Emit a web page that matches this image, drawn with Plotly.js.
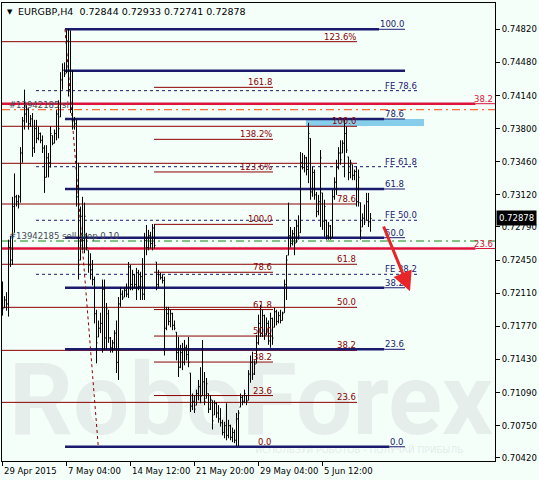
<!DOCTYPE html>
<html><head><meta charset="utf-8">
<script src="https://cdn.plot.ly/plotly-3.0.1.min.js"></script>
<style>html,body{margin:0;padding:0;background:#F5FFFA}#chart{width:539px;height:480px}</style>
</head><body><div id="chart"></div>
<script>
const opens=[0.7215,0.7196,0.7204,0.7200,0.7258,0.7245,0.7300,0.7310,0.7305,0.7310,
0.7355,0.7388,0.7395,0.7400,0.7385,0.7390,0.7360,0.7380,0.7370,0.7375,
0.7368,0.7360,0.7330,0.7350,0.7345,0.7373,0.7365,0.7375,0.7395,0.7392,
0.7430,0.7440,0.7437,0.7470,0.7420,0.7400,0.7388,0.7385,0.7310,0.7245,
0.7290,0.7265,0.7270,0.7255,0.7240,0.7235,0.7225,0.7190,0.7166,0.7175,
0.7180,0.7215,0.7165,0.7190,0.7165,0.7155,0.7160,0.7170,0.7140,0.7200,
0.7210,0.7207,0.7214,0.7210,0.7238,0.7220,0.7230,0.7220,0.7232,0.7218,
0.7228,0.7210,0.7265,0.7258,0.7270,0.7262,0.7278,0.7243,0.7220,0.7230,
0.7227,0.7224,0.7175,0.7190,0.7182,0.7190,0.7178,0.7171,0.7150,0.7135,
0.7150,0.7140,0.7155,0.7148,0.7129,0.7095,0.7100,0.7096,0.7108,0.7115,
0.7106,0.7120,0.7103,0.7108,0.7092,0.7101,0.7086,0.7098,0.7088,0.7082,
0.7078,0.7068,0.7075,0.7065,0.7075,0.7063,0.7068,0.7060,0.7082,0.7094,
0.7104,0.7100,0.7106,0.7101,0.7128,0.7140,0.7128,0.7139,0.7160,0.7180,
0.7170,0.7188,0.7168,0.7180,0.7162,0.7185,0.7176,0.7192,0.7182,0.7188,
0.7183,0.7191,0.7220,0.7250,0.7270,0.7262,0.7272,0.7263,0.7280,0.7273,
0.7345,0.7340,0.7350,0.7338,0.7370,0.7315,0.7335,0.7312,0.7295,0.7305,
0.7314,0.7285,0.7286,0.7270,0.7280,0.7268,0.7310,0.7325,0.7340,0.7355,
0.7355,0.7365,0.7375,0.7351,0.7335,0.7343,0.7332,0.7336,0.7305,0.7304,
0.7279,0.7288,0.7286,0.7305,0.72844];
const highs=[0.7223,0.7208,0.7212,0.7266,0.7270,0.7310,0.7334,0.7312,0.7312,0.7361,
0.7392,0.7420,0.7404,0.7401,0.7394,0.7396,0.7389,0.7389,0.7382,0.7376,
0.7373,0.7363,0.7363,0.7355,0.7382,0.7373,0.7379,0.7399,0.7409,0.7438,
0.7447,0.7448,0.7481,0.7482,0.7481,0.7440,0.7392,0.7389,0.7345,0.7300,
0.7310,0.7304,0.7273,0.7255,0.7252,0.7245,0.7228,0.7194,0.7183,0.7191,
0.7225,0.7225,0.7201,0.7194,0.7166,0.7163,0.7173,0.7183,0.7207,0.7217,
0.7214,0.7217,0.7221,0.7243,0.7240,0.7235,0.7230,0.7237,0.7235,0.7233,
0.7247,0.7273,0.7281,0.7276,0.7274,0.7282,0.7282,0.7243,0.7235,0.7232,
0.7230,0.7228,0.7197,0.7197,0.7194,0.7191,0.7183,0.7171,0.7166,0.7158,
0.7160,0.7163,0.7158,0.7166,0.7129,0.7108,0.7106,0.7112,0.7122,0.7135,
0.7163,0.7130,0.7124,0.7108,0.7106,0.7101,0.7101,0.7099,0.7096,0.7093,
0.7081,0.7079,0.7098,0.7081,0.7076,0.7073,0.7071,0.7088,0.7091,0.7108,
0.7106,0.7112,0.7106,0.7132,0.7147,0.7151,0.7142,0.7168,0.7189,0.7199,
0.7194,0.7189,0.7186,0.7183,0.7191,0.7186,0.7196,0.7194,0.7192,0.7194,
0.7192,0.7225,0.7250,0.7304,0.7279,0.7276,0.7279,0.7286,0.7291,0.7356,
0.7355,0.7353,0.7351,0.7386,0.7370,0.7341,0.7338,0.7315,0.7312,0.7358,
0.7314,0.7307,0.7286,0.7284,0.7281,0.7317,0.7330,0.7348,0.7361,0.7368,
0.7368,0.7389,0.7382,0.7351,0.7348,0.7343,0.7338,0.7341,0.7338,0.7304,
0.7293,0.7302,0.7314,0.7314,0.72933];
const lows=[0.7188,0.7196,0.7193,0.7187,0.7238,0.7240,0.7273,0.7300,0.7298,0.7304,
0.7345,0.7379,0.7386,0.7379,0.7382,0.7351,0.7355,0.7365,0.7368,0.7365,
0.7355,0.7314,0.7330,0.7330,0.7340,0.7363,0.7365,0.7368,0.7370,0.7392,
0.7420,0.7433,0.7437,0.7413,0.7396,0.7379,0.7379,0.7300,0.7225,0.7245,
0.7255,0.7252,0.7255,0.7232,0.7225,0.7219,0.7180,0.7139,0.7166,0.7170,
0.7150,0.7153,0.7153,0.7160,0.7150,0.7150,0.7153,0.7129,0.7122,0.7197,
0.7204,0.7207,0.7207,0.7206,0.7214,0.7214,0.7216,0.7204,0.7214,0.7204,
0.7204,0.7204,0.7250,0.7255,0.7257,0.7255,0.7257,0.7214,0.7217,0.7225,
0.7221,0.7147,0.7173,0.7178,0.7176,0.7173,0.7173,0.7142,0.7125,0.7134,
0.7132,0.7137,0.7142,0.7135,0.7089,0.7091,0.7088,0.7096,0.7101,0.7098,
0.7106,0.7096,0.7103,0.7088,0.7091,0.7071,0.7086,0.7083,0.7078,0.7074,
0.7065,0.7062,0.7060,0.7062,0.7060,0.7058,0.7057,0.7054,0.7054,0.7094,
0.7096,0.7098,0.7096,0.7101,0.7119,0.7122,0.7127,0.7139,0.7158,0.7166,
0.7166,0.7163,0.7168,0.7158,0.7155,0.7158,0.7176,0.7178,0.7180,0.7180,
0.7183,0.7191,0.7204,0.7250,0.7258,0.7260,0.7250,0.7263,0.7266,0.7273,
0.7338,0.7335,0.7332,0.7324,0.7307,0.7310,0.7307,0.7289,0.7291,0.7279,
0.7276,0.7269,0.7266,0.7266,0.7266,0.7268,0.7307,0.7312,0.7338,0.7343,
0.7355,0.7330,0.7355,0.7327,0.7329,0.7327,0.7327,0.7300,0.7300,0.7266,
0.7279,0.7281,0.7286,0.7279,0.72741];
const closes=[0.7195,0.7204,0.7200,0.7258,0.7245,0.7300,0.7310,0.7305,0.7310,0.7355,
0.7388,0.7395,0.7400,0.7385,0.7390,0.7360,0.7380,0.7370,0.7375,0.7368,
0.7360,0.7330,0.7350,0.7345,0.7375,0.7365,0.7375,0.7395,0.7380,0.7430,
0.7440,0.7436,0.7470,0.7420,0.7400,0.7388,0.7385,0.7310,0.7240,0.7290,
0.7265,0.7290,0.7258,0.7240,0.7235,0.7225,0.7190,0.7160,0.7175,0.7180,
0.7215,0.7165,0.7195,0.7165,0.7155,0.7160,0.7170,0.7140,0.7200,0.7210,
0.7206,0.7214,0.7210,0.7238,0.7220,0.7230,0.7220,0.7232,0.7218,0.7228,
0.7210,0.7265,0.7258,0.7270,0.7262,0.7278,0.7260,0.7220,0.7230,0.7227,
0.7224,0.7175,0.7190,0.7182,0.7190,0.7178,0.7175,0.7150,0.7135,0.7150,
0.7140,0.7155,0.7148,0.7140,0.7095,0.7100,0.7092,0.7108,0.7115,0.7105,
0.7120,0.7100,0.7118,0.7092,0.7102,0.7080,0.7098,0.7088,0.7082,0.7078,
0.7068,0.7075,0.7065,0.7075,0.7063,0.7068,0.7060,0.7082,0.7088,0.7104,
0.7100,0.7108,0.7100,0.7128,0.7140,0.7128,0.7138,0.7160,0.7180,0.7170,
0.7188,0.7168,0.7180,0.7162,0.7185,0.7165,0.7192,0.7182,0.7188,0.7183,
0.7190,0.7220,0.7245,0.7270,0.7262,0.7272,0.7262,0.7280,0.7270,0.7345,
0.7340,0.7350,0.7338,0.7375,0.7315,0.7335,0.7312,0.7295,0.7305,0.7350,
0.7285,0.7300,0.7270,0.7280,0.7268,0.7310,0.7325,0.7340,0.7355,0.7348,
0.7365,0.7375,0.7358,0.7335,0.7345,0.7332,0.7336,0.7305,0.7330,0.7275,
0.7288,0.7284,0.7305,0.72844,0.72878];

const tickBars=[0,32,64,96,128,160];
const tickLabels=['29 Apr 2015','7 May 04:00','14 May 12:00','21 May 20:00','29 May 04:00','5 Jun 12:00'];
const priceTicks=[0.7482,0.7448,0.7414,0.7380,0.7346,0.7312,0.7279,0.7245,0.7211,0.7177,0.7143,0.7109,0.7075,0.7042];

const navyLevels=[0.7482,0.74395,0.73899,0.7318,0.7268,0.72166,0.71534,0.70533];
const navyLabels=['100.0','','78.6','61.8','50.0','38.2','23.6','0.0'];
const setALevels=[0.74693,0.73824,0.73444,0.73026,0.72407,0.71965,0.71523,0.70989];
const setALabels=['123.6%','100.0','','78.6','61.8','50.0','38.2','23.6'];
const setBLevels=[0.74224,0.7369,0.73355,0.72817,0.72325,0.71942,0.7167,0.71403,0.71059,0.70533];
const setBLabels=['161.8','138.2%','123.6%','100.0','78.6','61.8','50.0','38.2','23.6','0.0'];
const feLevels=[0.7419,0.73409,0.72859,0.72304];
const feLabels=['FE 78.6','FE 61.8','FE 50.0','FE 38.2'];
const redLevels=[0.74056,0.72569];
const redLabels=['38.2','23.6'];
const orderLevels=[0.73994,0.72646];
const orderLabels=['#13942185 sl','#13942185 sell stop 0.10'];
const trendFrom=[31.25,0.7482], trendTo=[47.9,0.70533];
const zoneLow=0.73827, zoneHigh=0.73899;
const lastPrice=0.72878;
const arrowFrom=[190.25,0.7281], arrowTo=[203.75,0.7213];

const bars=highs.map((_,i)=>i);
const F='DejaVu Sans';
const NAVY='#1b1b6e', BROWN='#8B0000', CRIMSON='#DC143C';
const shapes=[], annotations=[];
function hline(y,x0,x1,color,width,dash,xref){
  shapes.push({type:'line',layer:'below',xref:xref||'x',yref:'y',x0:x0,x1:x1,y0:y,y1:y,line:{color:color,width:width,dash:dash||'solid'}});
}
function lab(text,x,y,color,extra){
  if(!text) return;
  annotations.push(Object.assign({text:text,x:x,y:y,xref:'x',yref:'y',xanchor:'right',yanchor:'bottom',showarrow:false,borderpad:0,yshift:-1,font:{family:F,size:8.5,color:color}},extra||{}));
}
// watermark
shapes.push({type:'rect',layer:'below',xref:'paper',yref:'paper',x0:0.03,x1:0.98,y0:0.03,y1:0.27,line:{width:0},fillcolor:'rgba(0,0,0,0)',
  label:{text:'RoboForex',font:{family:'Roboto',size:100,weight:'bold',color:'#E6EEEC'},textposition:'middle center'}});
shapes.push({type:'rect',layer:'below',xref:'paper',yref:'paper',x0:0.45,x1:1.0,y0:0.0,y1:0.05,line:{width:0},fillcolor:'rgba(0,0,0,0)',
  label:{text:'ИСПОЛЬЗУЙ РОБОТОВ - ПОЛУЧАЙ ПРИБЫЛЬ',font:{family:F,size:9,color:'#E4ECEA'},textposition:'middle center'}});
// zone
shapes.push({type:'rect',layer:'below',xref:'x',yref:'y',x0:151.75,x1:210.75,y0:zoneLow,y1:zoneHigh,line:{width:0},fillcolor:'#87CEEB'});
// set A
setALevels.forEach((v,i)=>{hline(v,-0.25,177.25,BROWN,1); lab(setALabels[i],177.25,v,BROWN);});
// set B
setBLevels.forEach((v,i)=>{hline(v,75.75,135.25,BROWN,1); lab(setBLabels[i],135.25,v,BROWN);});
// FE dashed
feLevels.forEach((v,i)=>{hline(v,16.75,207.75,NAVY,1,'3px,3px'); lab(feLabels[i],207.75,v,NAVY);});
// navy thick
navyLevels.forEach((v,i)=>{
  const w=navyLabels[i]?navyLabels[i].length*2.6:0;
  hline(v,31.25,201.25-w,NAVY,2.5); if(w) hline(v,201.25-w,201.25,NAVY,1);
  lab(navyLabels[i],201.25,v,NAVY);
});
// red levels
redLevels.forEach((v,i)=>{
  hline(v,-0.25,236.5,CRIMSON,2.5); hline(v,236.5,246.25,CRIMSON,1);
  lab(redLabels[i],245.5,v,CRIMSON);
});
// orders
hline(orderLevels[0],-0.25,246.25,'#FF4500',1,'8px,4px,2px,4px');
hline(orderLevels[1],-0.25,246.25,'#138a13',1,'8px,4px,2px,4px');
orderLevels.forEach((v,i)=>lab(orderLabels[i],2.5,v,'#3f4a55',{xanchor:'left',font:{family:F,size:8.5,color:'#3f4a55'}}));
// trend dotted
shapes.push({type:'line',layer:'below',xref:'x',yref:'y',x0:trendFrom[0],y0:trendFrom[1],x1:trendTo[0],y1:trendTo[1],line:{color:BROWN,width:1,dash:'dot'}});

// x tick labels
tickBars.forEach((b,i)=>annotations.push({text:tickLabels[i],x:b,y:0,xref:'x',yref:'paper',xanchor:'left',yanchor:'top',yshift:-4,showarrow:false,borderpad:0,font:{family:F,size:8.5,color:'#000'}}));
// title
annotations.push({text:'▼',x:0,y:1,xref:'paper',yref:'paper',xanchor:'left',yanchor:'top',xshift:3,yshift:-3,showarrow:false,font:{family:F,size:7,color:'#000'}});
annotations.push({text:'EURGBP,H4  0.72844 0.72933 0.72741 0.72878',x:0,y:1,xref:'paper',yref:'paper',xanchor:'left',yanchor:'top',xshift:14,yshift:-1,showarrow:false,font:{family:F,size:9.5,color:'#000'}});
// last price tag
annotations.push({text:lastPrice.toFixed(5),x:1,y:lastPrice,xref:'paper',yref:'y',xanchor:'left',yanchor:'middle',xshift:1,showarrow:false,bgcolor:'#000',borderpad:2,font:{family:F,size:8.5,color:'#fff'}});
// arrow
annotations.push({text:'',x:arrowTo[0],y:arrowTo[1],ax:arrowFrom[0],ay:arrowFrom[1],xref:'x',yref:'y',axref:'x',ayref:'y',showarrow:true,arrowhead:2,arrowsize:1.3,arrowwidth:3,arrowcolor:'#E8262A'});

const trace={type:'ohlc',x:bars,open:opens,high:highs,low:lows,close:closes,
  increasing:{line:{color:'#000',width:1}},decreasing:{line:{color:'#000',width:1}},tickwidth:0.5,hoverinfo:'skip',showlegend:false};

const layout={width:539,height:480,margin:{l:2,r:44,t:3,b:19},paper_bgcolor:'#F5FFFA',plot_bgcolor:'#F5FFFA',showlegend:false,
  xaxis:{range:[-0.25,246.25],showgrid:false,zeroline:false,showline:true,linecolor:'#000',linewidth:1,mirror:true,ticks:'outside',ticklen:4,tickcolor:'#000',tickvals:tickBars,showticklabels:false,rangeslider:{visible:false},fixedrange:true},
  yaxis:{side:'right',range:[0.70387,0.75090],tickvals:priceTicks,ticktext:priceTicks.map(v=>v.toFixed(5)),ticks:'outside',ticklen:4,tickcolor:'#000',tickfont:{family:F,size:8.5,color:'#000'},showgrid:false,zeroline:false,showline:true,linecolor:'#000',linewidth:1,mirror:true,fixedrange:true},
  shapes:shapes,annotations:annotations};
Plotly.newPlot('chart',[trace],layout,{staticPlot:true});
</script></body></html>
